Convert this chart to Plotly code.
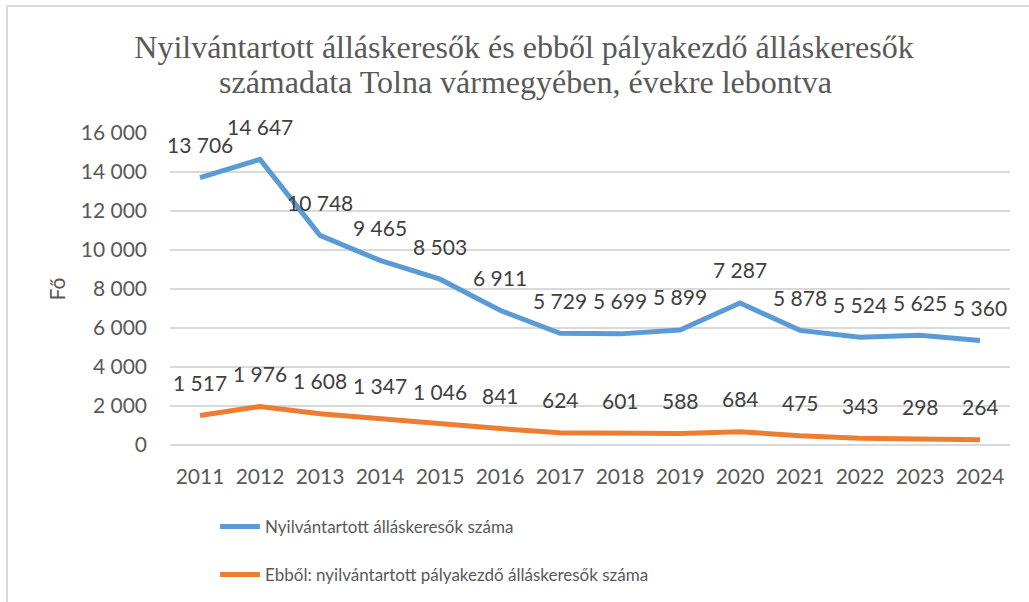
import plotly.graph_objects as go

years = ["2011", "2012", "2013", "2014", "2015", "2016", "2017",
         "2018", "2019", "2020", "2021", "2022", "2023", "2024"]
registered = [13706, 14647, 10748, 9465, 8503, 6911, 5729,
              5699, 5899, 7287, 5878, 5524, 5625, 5360]
career_starters = [1517, 1976, 1608, 1347, 1046, 841, 624,
                   601, 588, 684, 475, 343, 298, 264]
series_names = ["Nyilvántartott álláskeresők száma",
                "Ebből: nyilvántartott pályakezdő álláskeresők száma"]
title_lines = ["Nyilvántartott álláskeresők és ebből pályakezdő álláskeresők",
               "számadata Tolna vármegyében, évekre lebontva"]
y_ticks = [0, 2000, 4000, 6000, 8000, 10000, 12000, 14000, 16000]

BLUE = "#5B9BD5"
ORANGE = "#ED7D31"
TXT = "#595959"
GRID = "#D9D9D9"
FONT = "Lato"

def fmt(v):
    return f"{v:,}".replace(",", " ")

fig = go.Figure()
fig.add_trace(go.Scatter(x=years, y=registered, mode="lines", name=series_names[0],
                         line=dict(color=BLUE, width=5), legend="legend"))
fig.add_trace(go.Scatter(x=years, y=career_starters, mode="lines", name=series_names[1],
                         line=dict(color=ORANGE, width=5), legend="legend2"))

W, H = 1029, 602
L, R, T, B = 170, 19, 133, 157
pw, ph = W - L - R, H - T - B

def px_x(p):
    return (p - L) / pw

def px_y(p):
    return (H - B - p) / ph

annotations = []
for series in (registered, career_starters):
    for i, v in enumerate(series):
        annotations.append(dict(x=i, y=v, xref="x", yref="y", text=fmt(v),
                                showarrow=False, yshift=33,
                                font=dict(family=FONT, size=21, color="#404040")))
annotations.append(dict(text=title_lines[1], xref="paper", yref="paper",
                        x=px_x(525), y=px_y(82), xanchor="center", yanchor="middle",
                        showarrow=False,
                        font=dict(family="Liberation Serif", size=32, color=TXT)))

legend_style = dict(orientation="v", x=px_x(215), xanchor="left", yanchor="top",
                    yref="container",
                    itemwidth=40, font=dict(family=FONT, size=17, color=TXT),
                    bgcolor="rgba(0,0,0,0)")

fig.update_layout(
    width=W, height=H,
    margin=dict(l=L, r=R, t=T, b=B),
    paper_bgcolor="white", plot_bgcolor="white",
    separators=", ",
    title=dict(text=title_lines[0],
               x=524 / W, xanchor="center",
               y=1 - 47 / H, yanchor="middle",
               font=dict(family="Liberation Serif", size=32, color=TXT)),
    xaxis=dict(type="category", range=[-0.5, 13.5], showgrid=False, showline=False,
               zeroline=False, ticks="", ticklabelstandoff=17, automargin=False,
               tickangle=0,
               tickfont=dict(family=FONT, size=21, color=TXT)),
    yaxis=dict(range=[0, 16000], tickvals=y_ticks, tickformat=",d", automargin=False,
               showgrid=True, gridcolor=GRID, gridwidth=1.5, zeroline=True,
               zerolinecolor=GRID, zerolinewidth=1.5, showline=False, ticks="",
               ticklabelstandoff=22,
               tickfont=dict(family=FONT, size=21, color=TXT),
               title=dict(text="Fő", standoff=9, font=dict(family=FONT, size=21, color=TXT))),
    showlegend=True,
    legend=dict(legend_style, y=1 - 509 / H),
    legend2=dict(legend_style, y=1 - 557 / H),
    annotations=annotations,
    shapes=[dict(type="rect", xref="paper", yref="paper",
                 x0=px_x(7), x1=px_x(1045), y0=px_y(620), y1=px_y(6),
                 line=dict(color=GRID, width=2), fillcolor="rgba(0,0,0,0)", layer="below")],
)

fig.write_html("out.html", config={"displayModeBar": False},
               post_script="document.body.style.margin='0px';")
